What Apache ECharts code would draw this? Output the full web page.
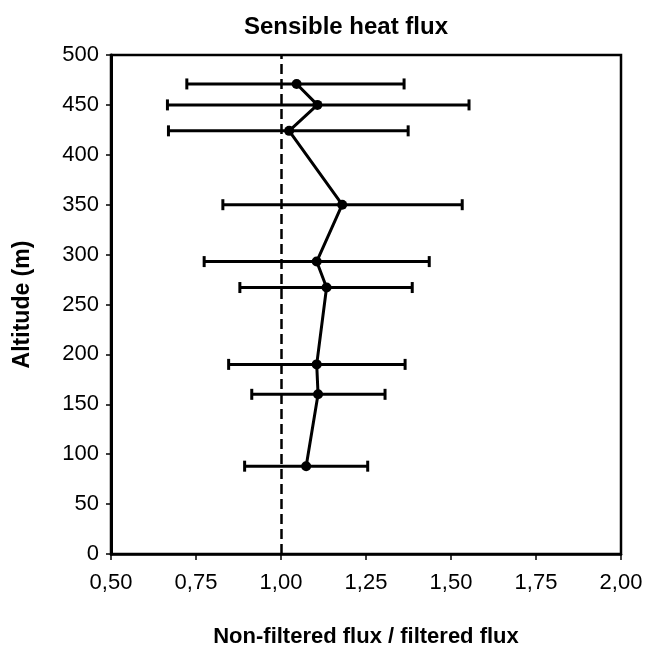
<!DOCTYPE html>
<html>
<head>
<meta charset="utf-8">
<script src="https://cdn.jsdelivr.net/npm/echarts@6/dist/echarts.min.js"></script>
<style>html,body{margin:0;padding:0;background:#fff}#c{width:645px;height:646px}</style>
</head>
<body>
<div id="c"></div>
<script>
var altitudes = [471, 450, 424, 350, 293, 267, 190, 160, 88];
var ratios    = [1.046, 1.107, 1.024, 1.180, 1.105, 1.134, 1.105, 1.109, 1.074];
var lowErr    = [0.723, 0.666, 0.669, 0.829, 0.774, 0.879, 0.846, 0.914, 0.893];
var highErr   = [1.362, 1.553, 1.374, 1.533, 1.436, 1.386, 1.365, 1.306, 1.255];
var xTicks = [0.5, 0.75, 1.0, 1.25, 1.5, 1.75, 2.0];
var yTicks = [0, 50, 100, 150, 200, 250, 300, 350, 400, 450, 500];
var refRatio = 1.0;

var FONT = '"Liberation Sans", Arial, sans-serif';
var chart = echarts.init(document.getElementById('c'), null, {renderer: 'canvas'});

var lineData = altitudes.map(function (a, i) { return [ratios[i], a]; });
var errData = altitudes.map(function (a, i) { return [lowErr[i], highErr[i], a]; });

chart.setOption({
  animation: false,
  backgroundColor: '#fff',
  title: {
    text: 'Sensible heat flux',
    left: 341, top: 10, textAlign: 'center',
    textStyle: {fontFamily: FONT, fontWeight: 'bold', fontSize: 24, color: '#000'}
  },
  grid: {left: 111, right: 24, top: 55, bottom: 92, containLabel: false, outerBoundsMode: 'none',
    show: true, borderColor: '#000', borderWidth: 2.5, backgroundColor: 'transparent'},
  xAxis: {
    type: 'value', min: 0.5, max: 2, interval: 0.25,
    name: 'Non-filtered flux / filtered flux', nameLocation: 'middle', nameGap: 72,
    nameTextStyle: {fontFamily: FONT, fontWeight: 'bold', fontSize: 22, color: '#000'},
    axisLine: {show: true, lineStyle: {color: '#000', width: 2.5}},
    axisTick: {show: true, inside: false, length: 6, lineStyle: {color: '#000', width: 1.5}},
    splitLine: {show: false},
    axisLabel: {margin: 18, fontFamily: FONT, fontSize: 22, color: '#000',
      formatter: function (v) { return v.toFixed(2).replace('.', ','); }}
  },
  yAxis: {
    type: 'value', min: 0, max: 500, interval: 50,
    name: 'Altitude (m)', nameLocation: 'middle', nameGap: 77, nameRotate: 90,
    nameTextStyle: {fontFamily: FONT, fontWeight: 'bold', fontSize: 23, color: '#000'},
    axisLine: {show: true, lineStyle: {color: '#000', width: 3}},
    axisTick: {show: true, inside: false, length: 5, lineStyle: {color: '#000', width: 1.5}},
    splitLine: {show: false},
    axisLabel: {margin: 12, fontFamily: FONT, fontSize: 22, color: '#000'}
  },
  series: [
    {
      type: 'custom',
      data: errData,
      z: 3,
      renderItem: function (params, api) {
        var y = api.value(2);
        var p1 = api.coord([api.value(0), y]);
        var p2 = api.coord([api.value(1), y]);
        var h = 5.5;
        var st = {stroke: '#000', lineWidth: 3};
        return {
          type: 'group',
          children: [
            {type: 'line', shape: {x1: p1[0], y1: p1[1], x2: p2[0], y2: p2[1]}, style: st},
            {type: 'line', shape: {x1: p1[0], y1: p1[1] - h, x2: p1[0], y2: p1[1] + h}, style: st},
            {type: 'line', shape: {x1: p2[0], y1: p2[1] - h, x2: p2[0], y2: p2[1] + h}, style: st}
          ]
        };
      }
    },
    {
      type: 'line',
      data: lineData,
      z: 4,
      symbol: 'circle', symbolSize: 10,
      itemStyle: {color: '#000'},
      lineStyle: {color: '#000', width: 3},
      markLine: {
        silent: true, symbol: 'none', label: {show: false},
        lineStyle: {color: '#000', type: [10, 5], width: 2.5},
        data: [{xAxis: refRatio}]
      }
    }
  ]
});
</script>
</body>
</html>
